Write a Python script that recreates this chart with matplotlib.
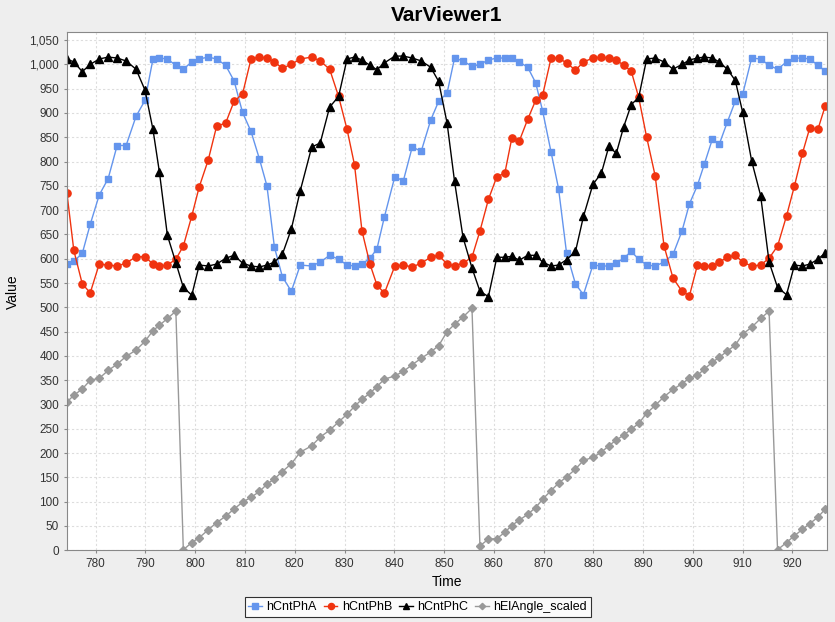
import numpy as np
import matplotlib
matplotlib.use("Agg")
import matplotlib.pyplot as plt
from matplotlib.ticker import MultipleLocator, FuncFormatter

# sample times (sampling is a bit irregular)
time = [774.2, 775.6, 777.3, 778.9, 780.7, 782.5, 784.3, 786.1, 788.1, 789.9,
        791.5, 792.8, 794.4, 796.1, 797.6, 799.3, 800.8, 802.6, 804.3, 806.1,
        807.8, 809.5, 811.2, 812.9, 814.4, 815.9, 817.5, 819.3, 821.1, 823.4,
        825.1, 827.0, 828.8, 830.5, 832.0, 833.5, 835.1, 836.5, 838.0, 840.1,
        841.8, 843.6, 845.4, 847.3, 848.9, 850.6, 852.1, 853.8, 855.6, 857.2,
        858.9, 860.6, 862.2, 863.6, 865.1, 866.8, 868.4, 869.8, 871.5, 873.0,
        874.6, 876.4, 878.0, 879.9, 881.6, 883.1, 884.6, 886.1, 887.6, 889.1,
        890.7, 892.4, 894.2, 896.0, 897.8, 899.3, 900.9, 902.3, 903.9, 905.3,
        906.9, 908.5, 910.0, 911.8, 913.6, 915.3, 917.0, 918.8, 920.4, 922.0,
        923.5, 925.1, 926.6]

hCntPhA = [589, 595, 611, 671, 731, 765, 833, 833, 893, 926,
           1011, 1013, 1011, 998, 990, 1005, 1011, 1015, 1011, 998,
           966, 901, 862, 805, 750, 624, 563, 533, 587, 585,
           593, 607, 599, 587, 585, 589, 601, 620, 686, 769,
           760, 830, 821, 885, 924, 941, 1013, 1007, 996, 1000,
           1009, 1013, 1013, 1013, 1005, 994, 962, 904, 819, 744,
           612, 548, 526, 587, 585, 585, 591, 601, 615, 599,
           587, 585, 593, 609, 657, 713, 751, 795, 846, 836,
           881, 924, 939, 1013, 1011, 998, 990, 1005, 1013, 1013,
           1011, 998, 986]

hCntPhB = [736, 617, 548, 530, 589, 587, 585, 591, 604, 604,
           589, 585, 587, 599, 626, 688, 748, 803, 873, 879,
           924, 939, 1011, 1015, 1013, 1005, 992, 1000, 1011, 1015,
           1007, 990, 934, 866, 793, 657, 589, 546, 529, 585,
           587, 583, 591, 603, 607, 589, 585, 591, 603, 657,
           722, 769, 776, 848, 842, 887, 926, 937, 1013, 1013,
           1003, 988, 1005, 1013, 1015, 1013, 1009, 998, 986, 932,
           850, 771, 626, 560, 533, 524, 587, 585, 585, 593,
           603, 607, 593, 585, 587, 601, 626, 688, 750, 817,
           870, 866, 915]

hCntPhC = [1011, 1005, 985, 1000, 1011, 1015, 1013, 1007, 990, 947,
           866, 778, 648, 592, 541, 525, 587, 585, 589, 601,
           607, 591, 585, 583, 587, 593, 609, 661, 740, 830,
           838, 912, 934, 1011, 1015, 1009, 998, 989, 1003, 1017,
           1017, 1013, 1007, 994, 965, 879, 759, 644, 581, 533,
           522, 603, 603, 605, 597, 607, 607, 593, 585, 587,
           598, 615, 687, 753, 776, 831, 817, 872, 917, 932,
           1011, 1013, 1005, 990, 1000, 1009, 1013, 1015, 1013, 1005,
           990, 967, 901, 801, 730, 593, 541, 526, 587, 585,
           589, 599, 612]

hElAngle_scaled = [305, 319, 332, 350, 354, 370, 383, 399, 412, 430,
                   452, 463, 477, 492, 1, 16, 26, 42, 57, 70,
                   85, 99, 109, 121, 136, 147, 162, 178, 202, 215,
                   233, 247, 264, 280, 296, 311, 323, 337, 352, 359,
                   368, 382, 395, 408, 421, 450, 465, 480, 498, 9,
                   23, 24, 37, 51, 62, 74, 88, 105, 123, 138,
                   151, 167, 185, 191, 202, 215, 227, 237, 249, 261,
                   282, 298, 316, 331, 343, 354, 360, 373, 387, 397,
                   410, 422, 445, 459, 477, 492, 1, 16, 30, 43,
                   55, 68, 85]

plt.rcParams['font.family'] = ['Liberation Sans', 'DejaVu Sans']

fig = plt.figure(figsize=(8.35, 6.22), dpi=100)
fig.patch.set_facecolor('#eeeeee')
ax = fig.add_axes([0.0799, 0.1153, 0.9109, 0.8328])
ax.set_facecolor('white')

ax.plot(time, hCntPhA, '-s', color='#6495ed', lw=1, markersize=4.6, label='hCntPhA')
ax.plot(time, hCntPhB, '-o', color='#f0330f', lw=1, markersize=5.2, label='hCntPhB')
ax.plot(time, hCntPhC, '-^', color='black', lw=1, markersize=5.6, label='hCntPhC')
ax.plot(time, hElAngle_scaled, '-D', color='#999999', lw=1, markersize=3.8,
        label='hElAngle_scaled')

ax.set_xlim(774.17, 927.0)
ax.set_ylim(0, 1066)
ax.xaxis.set_major_locator(MultipleLocator(10))
ax.yaxis.set_major_locator(MultipleLocator(50))
ax.yaxis.set_major_formatter(FuncFormatter(lambda v, p: '{:,.0f}'.format(v)))
ax.grid(True, color='#dddddd', linestyle=(0, (2, 2)), lw=0.8)
ax.set_axisbelow(True)
for s in ax.spines.values():
    s.set_color('#888888')
ax.tick_params(colors='#888888', labelcolor='#333333', labelsize=8.5, length=2)

ax.set_title('VarViewer1', fontsize=15, fontweight='bold', pad=8)
ax.set_xlabel('Time', fontsize=10, labelpad=4)
ax.set_ylabel('Value', fontsize=10)
ax.yaxis.set_label_coords(-0.062, 0.5)

leg = fig.legend(loc='center', bbox_to_anchor=(0.5, 0.024), ncol=4, fontsize=9,
                 frameon=True, fancybox=False, handlelength=1.1, handletextpad=0.35,
                 columnspacing=0.55, borderpad=0.3, markerscale=0.85)
leg.get_frame().set_edgecolor('black')
leg.get_frame().set_linewidth(0.8)

fig.savefig('out.png', dpi=100, facecolor=fig.get_facecolor())
